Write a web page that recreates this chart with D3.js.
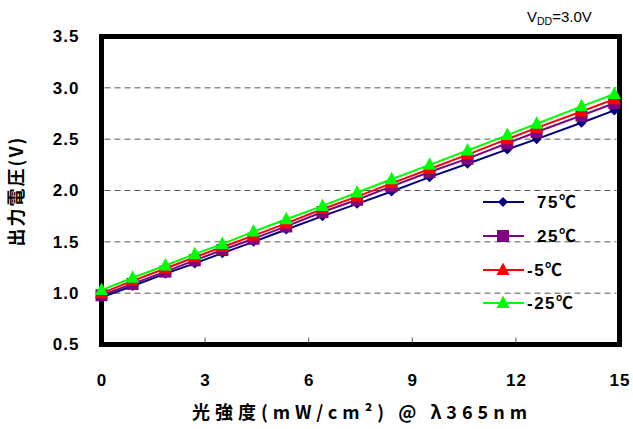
<!DOCTYPE html>
<html><head><meta charset="utf-8">
<script src="https://cdn.jsdelivr.net/npm/d3@7"></script>
<style>body{margin:0;background:#fff}svg{display:block}</style>
</head><body>
<svg id="c" width="633" height="429"></svg>
<script>
const xValues = [0, 0.9, 1.85, 2.7, 3.5, 4.4, 5.35, 6.4, 7.4, 8.4, 9.5, 10.6, 11.75, 12.6, 13.9, 14.85];
const s75  = [0.96, 1.07, 1.19, 1.29, 1.39, 1.50, 1.62, 1.75, 1.87, 1.99, 2.13, 2.26, 2.40, 2.50, 2.66, 2.78];
const s25  = [0.98, 1.09, 1.21, 1.32, 1.42, 1.53, 1.65, 1.79, 1.91, 2.04, 2.18, 2.31, 2.46, 2.57, 2.73, 2.85];
const sM5  = [1.00, 1.12, 1.24, 1.35, 1.45, 1.56, 1.68, 1.82, 1.94, 2.07, 2.21, 2.35, 2.50, 2.61, 2.77, 2.89];
const sM25 = [1.03, 1.15, 1.27, 1.38, 1.48, 1.60, 1.72, 1.85, 1.98, 2.11, 2.25, 2.39, 2.54, 2.65, 2.82, 2.94];
const seriesNames = ["75℃", "25℃", "-5℃", "-25℃"];
const xTicks = [0, 3, 6, 9, 12, 15];
const yTicks = [0.5, 1.0, 1.5, 2.0, 2.5, 3.0, 3.5];
const xTitle = "光強度(mW/cm²) @ λ365nm";
const yTitle = "出力電圧(V)";

const series = [
  {name: seriesNames[0], values: s75,  color: "#000080", shape: "diamond"},
  {name: seriesNames[1], values: s25,  color: "#800080", shape: "square"},
  {name: seriesNames[2], values: sM5,  color: "#FF0000", shape: "triangle"},
  {name: seriesNames[3], values: sM25, color: "#00FF00", shape: "triangle"}
];

const svg = d3.select("#c");
const L = 101.5, R = 619.5, T = 36.5, B = 344.5;
const x = d3.scaleLinear().domain([0, 15]).range([L, R]);
const y = d3.scaleLinear().domain([0.5, 3.5]).range([B, T]);
const font = "'Liberation Sans', Arial, 'Noto Sans CJK JP', sans-serif";
const cjk = "'Noto Sans CJK JP', 'Liberation Sans', sans-serif";

// gridlines
svg.append("g").selectAll("line").data(yTicks.filter(v => v > 0.5 && v < 3.5)).join("line")
  .attr("x1", L + 3).attr("x2", R - 3)
  .attr("y1", d => y(d)).attr("y2", d => y(d))
  .attr("stroke", "#555").attr("stroke-width", 1).attr("stroke-dasharray", "6,4");

// inner x ticks
svg.append("g").selectAll("line").data(xTicks.filter(v => v > 0 && v < 15)).join("line")
  .attr("x1", d => x(d)).attr("x2", d => x(d))
  .attr("y1", B - 7).attr("y2", B)
  .attr("stroke", "#555").attr("stroke-width", 1);

// axes labels using d3 axes (lines hidden)
const xAxis = svg.append("g").attr("transform", `translate(0,${B})`)
  .call(d3.axisBottom(x).tickValues(xTicks).tickFormat(d3.format("d")).tickSize(0).tickPadding(41));
xAxis.select(".domain").remove();
xAxis.selectAll("text").attr("font-family", font).attr("font-weight", "bold").attr("font-size", 17).attr("letter-spacing", 1).attr("fill", "#000").attr("dy", "0");

const yAxis = svg.append("g").attr("transform", `translate(${L},0)`)
  .call(d3.axisLeft(y).tickValues(yTicks).tickFormat(d3.format(".1f")).tickSize(0).tickPadding(22));
yAxis.select(".domain").remove();
yAxis.selectAll("text").attr("font-family", font).attr("font-weight", "bold").attr("font-size", 17).attr("letter-spacing", 1).attr("fill", "#000");

// frame
svg.append("rect").attr("x", L).attr("y", T).attr("width", R - L).attr("height", B - T)
  .attr("fill", "none").attr("stroke", "#000").attr("stroke-width", 5);

function marker(g, shape, color, cx, cy) {
  if (shape === "diamond") {
    g.append("path").attr("d", `M${cx},${cy-5}L${cx+5},${cy}L${cx},${cy+5}L${cx-5},${cy}Z`).attr("fill", color);
  } else if (shape === "square") {
    g.append("rect").attr("x", cx - 6).attr("y", cy - 6).attr("width", 12).attr("height", 12).attr("fill", color);
  } else {
    g.append("path").attr("d", `M${cx},${cy-7.5}L${cx+6.5},${cy+5}L${cx-6.5},${cy+5}Z`).attr("fill", color);
  }
}

const line = d3.line().x(d => x(d[0])).y(d => y(d[1]));
series.forEach(s => {
  const g = svg.append("g");
  const pts = xValues.map((xv, i) => [xv, s.values[i]]);
  g.append("path").attr("d", line(pts)).attr("fill", "none").attr("stroke", s.color).attr("stroke-width", 2);
  pts.forEach(p => marker(g, s.shape, s.color, x(p[0]), y(p[1])));
});

// legend
const lg = svg.append("g");
const legY = [202, 236, 270, 303];
series.forEach((s, i) => {
  const ly = legY[i];
  lg.append("line").attr("x1", 483).attr("x2", 524).attr("y1", ly).attr("y2", ly).attr("stroke", s.color).attr("stroke-width", 2);
  marker(lg, s.shape, s.color, 503, ly);
  lg.append("text").attr("x", s.name.startsWith("-") ? 527 : 537).attr("y", ly + 6)
    .attr("font-family", font).attr("font-weight", "bold").attr("font-size", 17).attr("letter-spacing", 1.5)
    .text(s.name);
});

// VDD
const vt = svg.append("text").attr("x", 527).attr("y", 22).attr("font-family", font).attr("font-size", 15);
vt.append("tspan").text("V");
vt.append("tspan").attr("font-size", 10.5).attr("dy", 3).text("DD");
vt.append("tspan").attr("dy", -3).text("=3.0V");

// axis titles
svg.append("text").attr("x", 362).attr("y", 419).attr("text-anchor", "middle")
  .attr("font-family", cjk).attr("font-weight", "bold").attr("font-size", 18).attr("letter-spacing", 5)
  .text(xTitle);
svg.append("text").attr("transform", "translate(23,191) rotate(-90)").attr("text-anchor", "middle")
  .attr("font-family", cjk).attr("font-weight", "bold").attr("font-size", 18).attr("letter-spacing", 2)
  .text(yTitle);
</script>
</body></html>
